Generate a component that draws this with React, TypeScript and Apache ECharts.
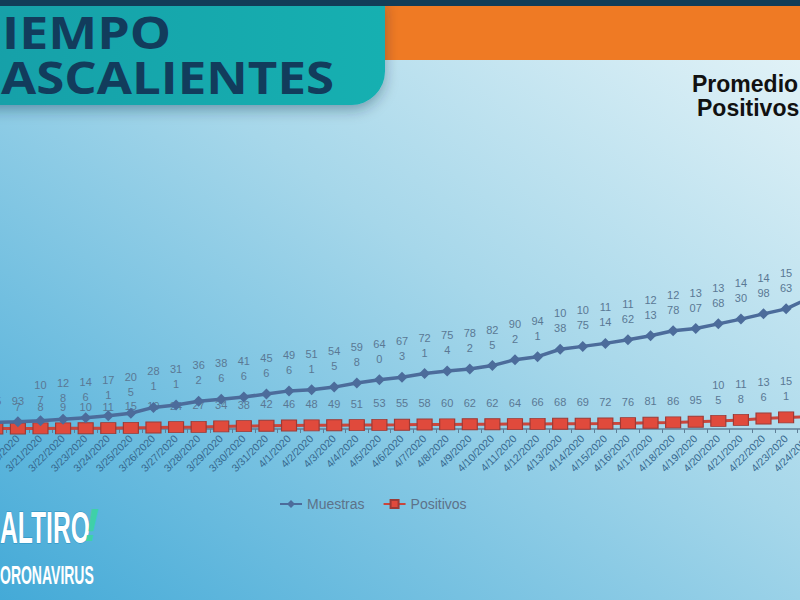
import React, { useEffect, useRef } from "react";
import * as echarts from "echarts";

const dates = [
  "3/19/2020", "3/20/2020", "3/21/2020", "3/22/2020", "3/23/2020", "3/24/2020", "3/25/2020",
  "3/26/2020", "3/27/2020", "3/28/2020", "3/29/2020", "3/30/2020", "3/31/2020", "4/1/2020",
  "4/2/2020", "4/3/2020", "4/4/2020", "4/5/2020", "4/6/2020", "4/7/2020", "4/8/2020",
  "4/9/2020", "4/10/2020", "4/11/2020", "4/12/2020", "4/13/2020", "4/14/2020", "4/15/2020",
  "4/16/2020", "4/17/2020", "4/18/2020", "4/19/2020", "4/20/2020", "4/21/2020", "4/22/2020",
  "4/23/2020", "4/24/2020",
];

const muestras = [
  85, 93, 107, 128, 146, 171, 205, 281, 311, 362, 386, 416, 456, 496, 511, 545, 598, 640,
  673, 721, 754, 782, 825, 902, 941, 1038, 1075, 1114, 1162, 1213, 1278, 1307, 1368, 1430,
  1498, 1563, 1700,
];

const positivos = [
  6, 7, 8, 9, 10, 11, 15, 19, 24, 27, 34, 38, 42, 46, 48, 49, 51, 53, 55, 58, 60, 62, 62,
  64, 66, 68, 69, 72, 76, 81, 86, 95, 105, 118, 136, 151, 160,
];

const seriesNames = ["Muestras", "Positivos"];

const wrapLabel = (p: any) => {
  const s = String(p.value);
  return s.length > 2 ? s.slice(0, 2) + "\n" + s.slice(2) : s;
};

const OX = 16;
const CW = 836;

export default function App() {
  const ref = useRef<HTMLDivElement>(null);
  useEffect(() => {
    if (!ref.current) return;
    const chart = echarts.init(ref.current, null, { renderer: "svg" });
    const labelStyle = {
      show: true,
      position: "top" as const,
      distance: 8,
      formatter: wrapLabel,
      color: "#5a7894",
      fontSize: 11,
      lineHeight: 15,
      fontFamily: "Liberation Sans",
    };
    chart.setOption({
      animation: false,
      graphic: [
        {
          type: "rect",
          z: -100,
          silent: true,
          shape: { x: 0, y: 0, width: CW, height: 600 },
          style: {
            fill: new echarts.graphic.LinearGradient(1, 0, 0, 1, [
              { offset: 0, color: "#eaf6f9" },
              { offset: 0.45, color: "#a6d7ea" },
              { offset: 1, color: "#42a9d7" },
            ]),
          },
        },
        {
          type: "rect",
          z: -50,
          shape: { x: OX + 370, y: 0, width: 440, height: 60 },
          style: { fill: "#ef7a24" },
        },
        {
          type: "rect",
          z: -40,
          shape: { x: OX - 40, y: 0, width: 425, height: 105, r: [0, 0, 34, 0] },
          style: {
            fill: new echarts.graphic.LinearGradient(0, 0, 1, 0, [
              { offset: 0, color: "#169fa8" },
              { offset: 1, color: "#12b0b1" },
            ]),
            shadowBlur: 14,
            shadowOffsetY: 5,
            shadowColor: "rgba(0,40,60,0.35)",
          },
        },
        {
          type: "rect",
          z: -30,
          shape: { x: 0, y: 0, width: CW, height: 6 },
          style: { fill: "#123d58" },
        },
        {
          type: "text",
          z: -20,
          x: OX + 2,
          y: 10,
          scaleX: 1.18,
          style: {
            text: "IEMPO",
            fill: "#123c5c",
            font: "bold 44px 'Open Sans'",
          },
        },
        {
          type: "text",
          z: -20,
          x: OX + 1,
          y: 55,
          scaleX: 1.16,
          style: {
            text: "ASCALIENTES",
            fill: "#123c5c",
            font: "bold 44px 'Open Sans'",
          },
        },
        {
          type: "text",
          z: -20,
          x: OX + 692,
          y: 72,
          style: {
            text: "Promedio",
            fill: "#111111",
            font: "bold 23px 'Liberation Sans'",
          },
        },
        {
          type: "text",
          z: -20,
          x: OX + 697,
          y: 96,
          style: {
            text: "Positivos",
            fill: "#111111",
            font: "bold 23px 'Liberation Sans'",
          },
        },
        {
          type: "text",
          z: -20,
          x: OX + 0,
          y: 506,
          scaleX: 0.56,
          style: {
            text: "ALTIRO",
            fill: "#ffffff",
            font: "bold 44px 'Liberation Sans'",
            stroke: "#2a8fc0",
            lineWidth: 1,
          },
        },
        {
          type: "text",
          z: -20,
          x: OX + 84,
          y: 502,
          style: {
            text: "!",
            fill: "#3fd0a8",
            font: "italic bold 46px 'Liberation Sans'",
          },
        },
        {
          type: "text",
          z: -20,
          x: OX + 0,
          y: 563,
          scaleX: 0.56,
          style: {
            text: "ORONAVIRUS",
            fill: "#ffffff",
            font: "bold 25px 'Liberation Sans'",
          },
        },
      ],
      legend: {
        data: seriesNames,
        left: OX + 274,
        top: 492,
        itemWidth: 22,
        itemHeight: 10,
        itemGap: 18,
        textStyle: { color: "#5d7289", fontSize: 14, fontFamily: "Liberation Sans" },
      },
      grid: {
        left: 0,
        right: 0,
        top: 160,
        bottom: 171,
        containLabel: false,
        outerBoundsMode: "none",
      },
      xAxis: {
        type: "category",
        data: dates,
        axisLine: { lineStyle: { color: "#5f7f97", width: 1.5 } },
        axisTick: { show: true, length: 4, lineStyle: { color: "#5f7f97" } },
        axisLabel: {
          interval: 0,
          rotate: 45,
          color: "#36678d",
          fontSize: 10.5,
          fontFamily: "Liberation Sans",
          margin: 8,
        },
      },
      yAxis: { type: "value", min: 0, max: 3500, show: false },
      series: [
        {
          name: seriesNames[0],
          type: "line",
          data: muestras,
          symbol: "diamond",
          symbolSize: 11,
          itemStyle: { color: "#4c6c9b" },
          lineStyle: { color: "#4c6c9b", width: 3.5 },
          label: labelStyle,
          z: 3,
        },
        {
          name: seriesNames[1],
          type: "line",
          data: positivos,
          symbol: "rect",
          symbolSize: [15, 11],
          itemStyle: { color: "#e04a3c", borderColor: "#9c3a36", borderWidth: 1 },
          lineStyle: { color: "#c9463c", width: 3 },
          label: labelStyle,
          z: 2,
        },
      ],
    });
    return () => chart.dispose();
  }, []);
  return (
    <div style={{ position: "absolute", left: 0, top: 0, width: 800, height: 600, overflow: "hidden" }}>
      <div ref={ref} style={{ position: "absolute", left: -OX, top: 0, width: CW, height: 600 }} />
    </div>
  );
}
